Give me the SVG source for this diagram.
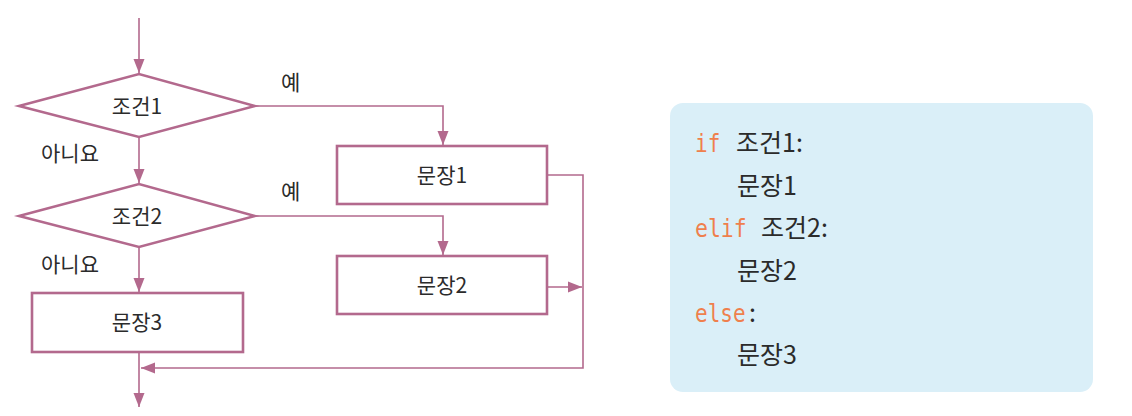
<svg xmlns="http://www.w3.org/2000/svg" width="1132" height="416" viewBox="0 0 1132 416">
<style>
.ln{fill:none;stroke:#b3698d;stroke-width:1.6}
.shape{fill:#fff;stroke:#b3698d;stroke-width:2.6}
.t{font-family:"Noto Sans CJK KR","Noto Sans",sans-serif;font-size:21px;fill:#2b2b2b}
.c{font-family:"Noto Sans CJK KR","Noto Sans",sans-serif;font-size:25px;fill:#2b2b2b}
.kw{font-family:"DejaVu Sans Mono",monospace;font-size:25px;fill:#ef7f4d}
</style>
<defs>
<marker id="ah" markerUnits="userSpaceOnUse" markerWidth="14" markerHeight="12" refX="14" refY="6" orient="auto" viewBox="0 0 14 12">
<path d="M0,0.5 L14,6 L0,11.5 z" fill="#b3698d"/>
</marker>
</defs>
<rect width="1132" height="416" fill="#fff"/>
<g id="connectors">
<path class="ln" d="M139,18 V73" marker-end="url(#ah)"/>
<path class="ln" d="M139,137 V183" marker-end="url(#ah)"/>
<path class="ln" d="M139,247 V292" marker-end="url(#ah)"/>
<path class="ln" d="M139,352 V407" marker-end="url(#ah)"/>
<path class="ln" d="M255,106 H443 V145" marker-end="url(#ah)"/>
<path class="ln" d="M255,216 H443 V255" marker-end="url(#ah)"/>
<path class="ln" d="M547,175 H583 V368 H141" marker-end="url(#ah)"/>
<path class="ln" d="M547,287 H582" marker-end="url(#ah)"/>
<text class="t" x="41" y="161">아니요</text>
<text class="t" x="41" y="272">아니요</text>
<text class="t" x="281" y="90">예</text>
<text class="t" x="281" y="199">예</text>
</g>
<g id="cond1">
<polygon class="shape" points="19,106 139,74 255,106 139,137"/>
<text class="t" x="137" y="114" text-anchor="middle">조건1</text>
</g>
<g id="cond2">
<polygon class="shape" points="19,216 139,184 255,216 139,247"/>
<text class="t" x="137" y="224" text-anchor="middle">조건2</text>
</g>
<g id="stmt1">
<rect class="shape" x="337" y="146" width="210" height="58"/>
<text class="t" x="442" y="183" text-anchor="middle">문장1</text>
</g>
<g id="stmt2">
<rect class="shape" x="337" y="256" width="210" height="58"/>
<text class="t" x="442" y="293" text-anchor="middle">문장2</text>
</g>
<g id="stmt3">
<rect class="shape" x="32" y="293" width="211" height="59"/>
<text class="t" x="137" y="330" text-anchor="middle">문장3</text>
</g>
<g id="code">
<rect x="670" y="103" width="423" height="289" rx="13" fill="#daeff8"/>
<text class="kw" transform="translate(695,152) scale(0.84,1)">if</text>
<text class="c" x="736" y="152">조건1:</text>
<text class="c" x="737" y="195">문장1</text>
<text class="kw" transform="translate(695,237) scale(0.86,1)">elif</text>
<text class="c" x="761" y="237">조건2:</text>
<text class="c" x="737" y="280">문장2</text>
<text class="kw" transform="translate(695,322) scale(0.84,1)">else</text>
<text class="c" x="749" y="322">:</text>
<text class="c" x="737" y="364">문장3</text>
</g>
</svg>
